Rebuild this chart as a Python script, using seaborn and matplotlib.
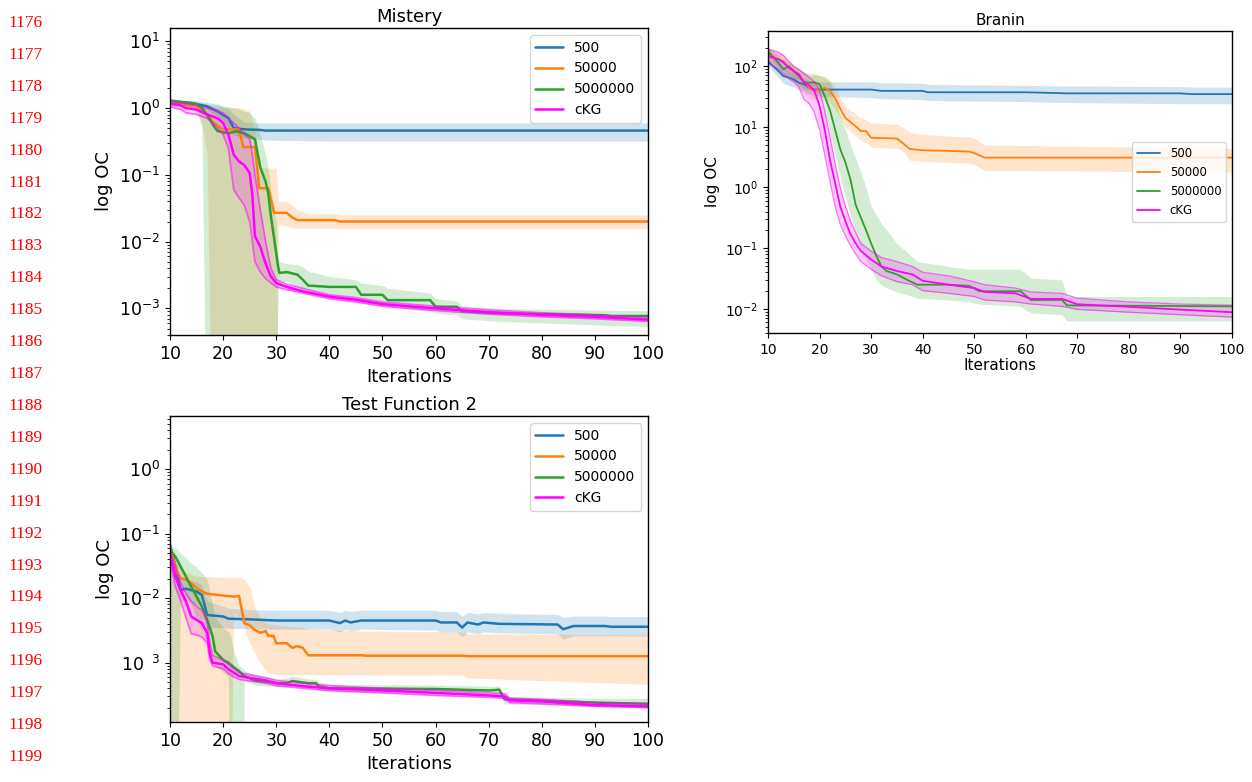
import matplotlib
matplotlib.use("Agg")
import matplotlib.pyplot as plt
import seaborn as sns
from matplotlib.ticker import FixedLocator, FixedFormatter, NullFormatter, LogLocator

sns.set_style("ticks")
plt.rcParams.update({
    "font.family": ["DejaVu Sans"],
    "axes.edgecolor": "black",
    "text.color": "black",
    "axes.labelcolor": "black",
    "xtick.color": "black",
    "ytick.color": "black",
    "axes.linewidth": 1.0,
    "xtick.major.size": 3.5,
    "ytick.major.size": 3.5,
    "ytick.minor.size": 2.0,
    "ytick.minor.width": 0.6,
    "legend.fancybox": True,
    "legend.framealpha": 0.8,
    "legend.edgecolor": "0.8",
})

C = 1e-6  # below the visible range (clipped band)

labels = ["500", "50000", "5000000", "cKG"]
colors = ["#1f77b4", "#ff7f0e", "#2ca02c", "#ff00ff"]

# ---------------- Mistery ----------------
mis_x_500 = [10, 14, 17, 19, 20, 21, 22, 24, 27, 28, 40, 60, 100]
mis_500 = [1.26, 1.19, 1.06, 0.89, 0.79, 0.71, 0.50, 0.48, 0.47, 0.46, 0.46, 0.46, 0.46]
mis_500_hi = [1.35, 1.3, 1.22, 1.15, 1.05, 1.0, 0.8, 0.62, 0.6, 0.6, 0.6, 0.6, 0.6]
mis_500_lo = [1.18, 1.1, 0.95, 0.75, 0.65, 0.5, 0.4, 0.36, 0.34, 0.33, 0.32, 0.32, 0.32]

mis_x_5e4 = [10, 13, 15, 16, 17, 18, 19, 20, 23, 23.8, 25, 26, 26.8, 28.5, 29.6, 30.0, 30.4, 32, 33, 34, 36, 41, 42, 100]
mis_5e4 = [1.19, 1.1, 1.08, 0.94, 0.79, 0.63, 0.54, 0.48, 0.48, 0.26, 0.26, 0.26, 0.063, 0.063, 0.027, 0.027,
           0.027, 0.027, 0.023, 0.021, 0.021, 0.021, 0.02, 0.02]
mis_5e4_hi = [1.3, 1.22, 1.15, 1.1, 1.02, 1.0, 1.0, 1.0, 1.0, 0.98, 0.9, 0.45, 0.13, 0.126, 0.126, 0.126,
              0.04, 0.04, 0.035, 0.03, 0.026, 0.026, 0.025, 0.025]
mis_5e4_lo = [1.1, 1.0, 0.9, 0.6, 0.2, C, C, C, C, C, C, C, C, C, C, C,
              0.018, 0.017, 0.016, 0.016, 0.016, 0.016, 0.0155, 0.0155]

mis_x_5e6 = [10, 15, 16, 17, 18.5, 19, 21, 22.5, 24, 25, 26, 27, 28, 28.5, 29, 30, 30.3, 30.6, 32, 34, 35, 36,
             40, 45, 46, 50, 51, 59, 60, 64, 65, 72, 92, 93, 100]
mis_5e6 = [1.3, 1.15, 1.0, 0.79, 0.5, 0.45, 0.42, 0.45, 0.42, 0.38, 0.34, 0.13, 0.079, 0.053, 0.024, 0.0067,
           0.0045, 0.0034, 0.0035, 0.0032, 0.0027, 0.0022, 0.0021, 0.0021, 0.0016, 0.0016, 0.00133, 0.00133,
           0.00106, 0.00106, 0.00091, 0.00085, 0.00079, 0.00077, 0.00077]
mis_5e6_hi = [1.35, 1.25, 1.2, 1.15, 1.1, 1.1, 1.05, 1.0, 0.9, 0.85, 0.7, 0.4, 0.2, 0.12, 0.06, 0.02, 0.006,
              0.005, 0.0047, 0.0045, 0.0042, 0.0036, 0.003, 0.0027, 0.0024, 0.0022, 0.002, 0.0017, 0.0014,
              0.0013, 0.0011, 0.001, 0.00094, 0.00093, 0.00093]
mis_5e6_lo = [1.2, 1.0, 0.5, C, C, C, C, C, C, C, C, C, C, C, C, C,
              0.0027, 0.0026, 0.0025, 0.0021, 0.0019, 0.0018, 0.0015, 0.0013, 0.0012, 0.0011, 0.00105,
              0.0009, 0.00085, 0.0008, 0.0007, 0.00064, 0.00056, 0.00055, 0.00054]

mis_x_ckg = [10, 12, 13, 15, 17, 18, 19, 20, 21, 22, 23, 24, 25, 25.5, 26, 27, 28, 29, 30, 32, 35, 40, 45, 50,
             60, 70, 80, 90, 100]
mis_ckg = [1.16, 1.1, 1.0, 0.95, 0.8, 0.75, 0.7, 0.6, 0.4, 0.2, 0.158, 0.14, 0.106, 0.05, 0.012, 0.0084,
           0.0047, 0.003, 0.0024, 0.0021, 0.0018, 0.0015, 0.00135, 0.00116, 0.001, 0.00088, 0.0008, 0.00075,
           0.00068]
mis_ckg_hi = [1.25, 1.2, 1.15, 1.1, 1.0, 0.95, 0.9, 0.85, 0.7, 0.6, 0.5, 0.4, 0.35, 0.2, 0.1, 0.03, 0.01,
              0.004, 0.0027, 0.0023, 0.002, 0.0016, 0.00145, 0.00125, 0.00108, 0.00095, 0.00086, 0.0008,
              0.00073]
mis_ckg_lo = [1.05, 0.95, 0.85, 0.8, 0.7, 0.6, 0.5, 0.4, 0.25, 0.06, 0.045, 0.035, 0.02, 0.01, 0.005, 0.0035,
              0.0028, 0.0024, 0.0021, 0.0019, 0.0017, 0.0014, 0.00125, 0.00108, 0.00093, 0.00082, 0.00075,
              0.0007, 0.00064]

# ---------------- Branin ----------------
bra_x_500 = [10, 12, 13, 14, 15, 16, 17, 18, 19, 30, 32, 40, 41, 60, 68, 90, 92, 100]
bra_500 = [120, 83, 68, 65, 60, 53, 50, 44, 41, 41, 39, 39, 37, 37, 35.5, 35.5, 34.5, 34.5]
bra_500_hi = [160, 120, 95, 85, 75, 68, 62, 58, 55, 55, 53, 52, 50, 48, 47, 46, 45, 45]
bra_500_lo = [100, 65, 52, 48, 45, 40, 37, 35, 32, 30, 29, 28, 27, 26, 25, 24, 24, 24]

bra_x_5e4 = [10, 12, 13, 14, 16, 17, 18, 19, 20, 21, 22, 23, 24, 25, 27, 28, 29, 30, 35, 36, 37.5, 40, 45, 49,
             50, 52, 100]
bra_5e4 = [155, 129, 120, 94, 68, 57, 44, 39, 41, 44, 39, 30, 20, 14, 10.2, 8.5, 8.5, 6.6, 6.4, 5.5, 4.3, 4.1,
           4.0, 3.9, 3.7, 3.1, 3.1]
bra_5e4_hi = [200, 170, 150, 120, 90, 80, 70, 70, 70, 68, 60, 45, 30, 22, 16, 14, 13, 11.5, 11, 10, 8, 7.5,
              7, 6.8, 6.5, 5, 4.4]
bra_5e4_lo = [120, 100, 90, 70, 45, 38, 30, 28, 30, 30, 25, 20, 14, 10, 7, 6, 5.5, 4.6, 4.4, 4.0, 2.8, 2.7,
              2.6, 2.5, 2.4, 1.9, 1.8]

bra_x_5e6 = [10, 12, 13, 14, 15, 16, 17, 18, 19, 20, 21, 22, 23, 24, 25, 26, 27, 28, 29, 30, 31, 32, 33, 35,
             37, 39, 45, 49, 51, 59, 61, 67, 68, 100]
bra_5e6 = [176, 113, 88, 100, 83, 68, 54, 53, 54, 50, 32, 19, 9.1, 4.3, 2.6, 1.35, 0.52, 0.32, 0.2, 0.12,
           0.075, 0.05, 0.042, 0.037, 0.03, 0.025, 0.025, 0.024, 0.0195, 0.0195, 0.014, 0.014, 0.0114, 0.011]
bra_5e6_hi = [200, 150, 120, 115, 100, 90, 80, 75, 75, 70, 65, 55, 30, 15, 9, 5, 3, 1.8, 1.0, 0.5, 0.35,
              0.25, 0.2, 0.12, 0.085, 0.06, 0.05, 0.045, 0.045, 0.045, 0.032, 0.03, 0.016, 0.016]
bra_5e6_lo = [150, 90, 70, 70, 60, 50, 42, 40, 38, 35, 18, 8, 3.5, 1.5, 0.7, 0.35, 0.18, 0.1, 0.065, 0.045,
              0.03, 0.025, 0.022, 0.019, 0.017, 0.015, 0.014, 0.013, 0.012, 0.011, 0.0085, 0.008, 0.0063,
              0.0063]

bra_x_ckg = [10, 12, 13, 14, 15, 16, 17, 18, 19, 20, 21, 22, 23, 24, 25, 26, 27, 28, 30, 32, 35, 38, 40, 45,
             50, 52, 58, 61, 67, 70, 80, 90, 100]
bra_ckg = [146, 129, 114, 94, 83, 73, 53, 48, 39, 22, 9, 2.9, 1.2, 0.49, 0.28, 0.17, 0.12, 0.09, 0.065, 0.05,
           0.042, 0.037, 0.029, 0.025, 0.022, 0.019, 0.018, 0.0146, 0.0146, 0.0119, 0.0108, 0.0097, 0.0088]
bra_ckg_hi = [190, 170, 150, 120, 100, 88, 75, 65, 55, 40, 18, 7, 2.5, 1.0, 0.5, 0.28, 0.18, 0.12, 0.09, 0.07,
              0.06, 0.05, 0.04, 0.035, 0.028, 0.025, 0.022, 0.019, 0.018, 0.015, 0.013, 0.012, 0.0115]
bra_ckg_lo = [110, 90, 75, 62, 55, 45, 28, 24, 17, 9, 3.5, 1.3, 0.5, 0.25, 0.16, 0.11, 0.08, 0.06, 0.045,
              0.035, 0.028, 0.025, 0.02, 0.018, 0.016, 0.014, 0.013, 0.012, 0.011, 0.0098, 0.0088, 0.008,
              0.0073]

# ---------------- Test Function 2 ----------------
tf2_x_500 = [10, 11, 12, 13, 15, 16, 17, 20, 21, 25, 30, 40, 42, 43, 44, 46, 60, 61, 64, 65, 66, 68, 69, 72,
             83, 84, 86, 92, 93, 100]
tf2_500 = [0.067, 0.031, 0.0134, 0.014, 0.0127, 0.0112, 0.0055, 0.0052, 0.0048, 0.0047, 0.0045, 0.0045,
           0.0041, 0.0045, 0.0042, 0.0045, 0.0045, 0.0042, 0.0042, 0.0035, 0.0042, 0.0039, 0.0042, 0.004,
           0.0039, 0.0033, 0.0037, 0.0037, 0.0036, 0.0036]
tf2_500_hi = [0.075, 0.04, 0.022, 0.02, 0.018, 0.016, 0.009, 0.0075, 0.007, 0.0066, 0.0065, 0.0065, 0.006,
              0.0065, 0.0062, 0.0065, 0.0065, 0.0062, 0.0062, 0.0052, 0.006, 0.0057, 0.006, 0.0058, 0.0056,
              0.005, 0.0053, 0.0053, 0.0052, 0.0052]
tf2_500_lo = [0.055, 0.02, 0.009, 0.009, 0.008, 0.007, 0.0035, 0.0035, 0.0034, 0.0034, 0.0033, 0.0033,
              0.003, 0.0033, 0.0031, 0.0033, 0.0032, 0.003, 0.003, 0.0025, 0.003, 0.0028, 0.003, 0.0029,
              0.0028, 0.0023, 0.0026, 0.0026, 0.0026, 0.0026]

tf2_x_5e4 = [10, 11, 11.3, 12, 13, 14, 15, 16, 17, 20, 21.3, 22, 23, 24, 25, 26, 27, 28, 28.5, 29.5, 30, 32,
             33, 34, 35, 36, 46, 47, 65, 66, 100]
tf2_5e4 = [0.063, 0.031, 0.025, 0.0204, 0.0193, 0.017, 0.0143, 0.0127, 0.0117, 0.011, 0.0107, 0.0106,
           0.0108, 0.0041, 0.0038, 0.0032, 0.0029, 0.0031, 0.0026, 0.0026, 0.002, 0.002, 0.0017, 0.0018,
           0.0017, 0.0013, 0.0013, 0.00128, 0.00128, 0.00126, 0.00126]
tf2_5e4_hi = [0.07, 0.04, 0.035, 0.03, 0.025, 0.023, 0.022, 0.0216, 0.0216, 0.021, 0.021, 0.021, 0.021,
              0.02, 0.015, 0.007, 0.005, 0.0042, 0.004, 0.0039, 0.0038, 0.0037, 0.0036, 0.0036, 0.0035,
              0.0033, 0.0031, 0.0031, 0.003, 0.0028, 0.0027]
tf2_5e4_lo = [C, C, C, C, C, C, C, C, C, C, C,
              0.006, 0.005, 0.0035, 0.002, 0.0014, 0.001, 0.00075, 0.0007, 0.00067, 0.00066, 0.00065,
              0.00065, 0.00065, 0.00065, 0.00065, 0.00065, 0.00064, 0.00064, 0.00058, 0.00046]

tf2_x_5e6 = [10, 11, 11.3, 12, 13, 14, 15, 16, 17, 18, 18.5, 20, 21, 21.3, 22, 23, 23.7, 24, 26, 29, 30, 32,
             33, 36, 37.5, 38, 40, 60, 70, 72, 73, 90, 100]
tf2_5e6 = [0.056, 0.044, 0.04, 0.031, 0.0216, 0.015, 0.0106, 0.0074, 0.0046, 0.0026, 0.0015, 0.0011, 0.001,
           0.00095, 0.00085, 0.00074, 0.00065, 0.00062, 0.00053, 0.0005, 0.00048, 0.00048, 0.00052,
           0.00048, 0.00048, 0.00043, 0.0004, 0.00039, 0.00037, 0.00038, 0.00027, 0.00024, 0.00023]
tf2_5e6_hi = [0.065, 0.06, 0.057, 0.05, 0.042, 0.035, 0.03, 0.025, 0.02, 0.008, 0.005, 0.0035, 0.003,
              0.0028, 0.0015, 0.0009, 0.0008, 0.00075, 0.00065, 0.0006, 0.00056, 0.00058, 0.00062, 0.00056,
              0.00055, 0.0005, 0.00046, 0.00045, 0.00043, 0.00043, 0.0003, 0.00028, 0.00028]
tf2_5e6_lo = [C, C, C, 0.02, 0.012, 0.008, 0.005, 0.0035, 0.002, 0.0012, 0.0009, 0.0007, 0.0006, C, C, C, C,
              0.00052, 0.00045, 0.00043, 0.00042, 0.00042, 0.00045, 0.00041, 0.00041, 0.00037, 0.00035,
              0.00034, 0.00033, 0.00033, 0.00023, 0.00021, 0.0002]

tf2_x_ckg = [10, 11, 12, 13, 14, 15, 16, 17, 17.5, 18, 20, 21, 22, 23, 25, 28, 30, 35, 40, 50, 60, 70, 73, 74,
             80, 90, 100]
tf2_ckg = [0.05, 0.0216, 0.0134, 0.0089, 0.0052, 0.0046, 0.0041, 0.0029, 0.0014, 0.001, 0.00094, 0.00079,
           0.0007, 0.00062, 0.00058, 0.00053, 0.00048, 0.00043, 0.0004, 0.00037, 0.00034, 0.00031, 0.0003,
           0.00026, 0.00025, 0.00022, 0.00021]
tf2_ckg_hi = [0.055, 0.03, 0.018, 0.012, 0.009, 0.0075, 0.0065, 0.0045, 0.002, 0.0013, 0.0011, 0.00095,
              0.0008, 0.0007, 0.00065, 0.00058, 0.00053, 0.00048, 0.00044, 0.0004, 0.00037, 0.00034, 0.00033,
              0.00028, 0.00027, 0.00024, 0.00023]
tf2_ckg_lo = [0.04, 0.015, 0.009, 0.005, 0.0028, 0.0027, 0.0025, 0.002, 0.0011, 0.0009, 0.0008, 0.00068,
              0.0006, 0.00055, 0.00052, 0.00048, 0.00044, 0.0004, 0.00037, 0.00034, 0.00031, 0.00029,
              0.00028, 0.00024, 0.00023, 0.00021, 0.0002]

x_ticks = [10, 20, 30, 40, 50, 60, 70, 80, 90, 100]
line_numbers = list(range(1176, 1200))

W, H = 1252, 782
fig = plt.figure(figsize=(W / 100, H / 100), dpi=100)


def px_axes(left, top, right, bottom):
    return fig.add_axes([left / W, 1 - bottom / H, (right - left) / W, (bottom - top) / H])


def draw(ax, series, lw, ylim, title, tfs, lfs, ttfs, legfs, legloc, xlpad):
    for (x, m, lo, hi), lab, col in zip(series, labels, colors):
        ax.fill_between(x, lo, hi, color=col, alpha=0.2, lw=0)
    for (x, m, lo, hi), lab, col in zip(series, labels, colors):
        if lab == "cKG":
            ax.plot(x, lo, color=col, alpha=0.55, lw=lw * 0.7)
            ax.plot(x, hi, color=col, alpha=0.55, lw=lw * 0.7)
        sns.lineplot(x=x, y=m, ax=ax, color=col, lw=lw, label=lab, estimator=None, sort=False)
    ax.set_yscale("log")
    ax.set_xlim(10, 100)
    ax.set_ylim(*ylim)
    ax.set_xticks(x_ticks)
    ax.tick_params(axis="both", which="major", labelsize=tfs)
    ax.set_xlabel("Iterations", fontsize=lfs, labelpad=xlpad)
    ax.set_ylabel("log OC", fontsize=lfs)
    ax.set_title(title, fontsize=ttfs, pad=4)
    ax.legend(loc=legloc, fontsize=legfs)


ax1 = px_axes(170, 28, 648, 335)
draw(ax1, [(mis_x_500, mis_500, mis_500_lo, mis_500_hi),
           (mis_x_5e4, mis_5e4, mis_5e4_lo, mis_5e4_hi),
           (mis_x_5e6, mis_5e6, mis_5e6_lo, mis_5e6_hi),
           (mis_x_ckg, mis_ckg, mis_ckg_lo, mis_ckg_hi)],
     1.8, (4e-4, 15.8), "Mistery", 12.5, 13, 13, 10, "upper right", 4)

ax2 = px_axes(768, 31, 1232, 333)
draw(ax2, [(bra_x_500, bra_500, bra_500_lo, bra_500_hi),
           (bra_x_5e4, bra_5e4, bra_5e4_lo, bra_5e4_hi),
           (bra_x_5e6, bra_5e6, bra_5e6_lo, bra_5e6_hi),
           (bra_x_ckg, bra_ckg, bra_ckg_lo, bra_ckg_hi)],
     1.3, (4e-3, 378), "Branin", 10, 11, 11, 8.5, "center right", 1)

ax3 = px_axes(170, 416, 648, 722)
draw(ax3, [(tf2_x_500, tf2_500, tf2_500_lo, tf2_500_hi),
           (tf2_x_5e4, tf2_5e4, tf2_5e4_lo, tf2_5e4_hi),
           (tf2_x_5e6, tf2_5e6, tf2_5e6_lo, tf2_5e6_hi),
           (tf2_x_ckg, tf2_ckg, tf2_ckg_lo, tf2_ckg_hi)],
     1.8, (1.2e-4, 6.7), "Test Function 2", 12.5, 13, 13, 10, "upper right", 4)
ax3.yaxis.set_major_locator(FixedLocator([1e-3, 1e-2, 1e-1, 1e0]))
ax3.yaxis.set_major_formatter(FixedFormatter([r"$\mathdefault{10^{\ \ 3}}$", r"$\mathdefault{10^{-2}}$",
                                              r"$\mathdefault{10^{-1}}$", r"$\mathdefault{10^{0}}$"]))
ax3.yaxis.set_minor_locator(LogLocator(base=10, subs=[2, 3, 4, 5, 6, 7, 8, 9], numticks=20))
ax3.yaxis.set_minor_formatter(NullFormatter())

for i, n in enumerate(line_numbers):
    y = 23 + i * (757 - 23) / 23
    fig.text(8 / W, 1 - y / H, str(n), color="red", fontsize=12.5,
             family=["Liberation Serif", "DejaVu Serif"], va="center", ha="left")

fig.savefig("out.png", dpi=100)
